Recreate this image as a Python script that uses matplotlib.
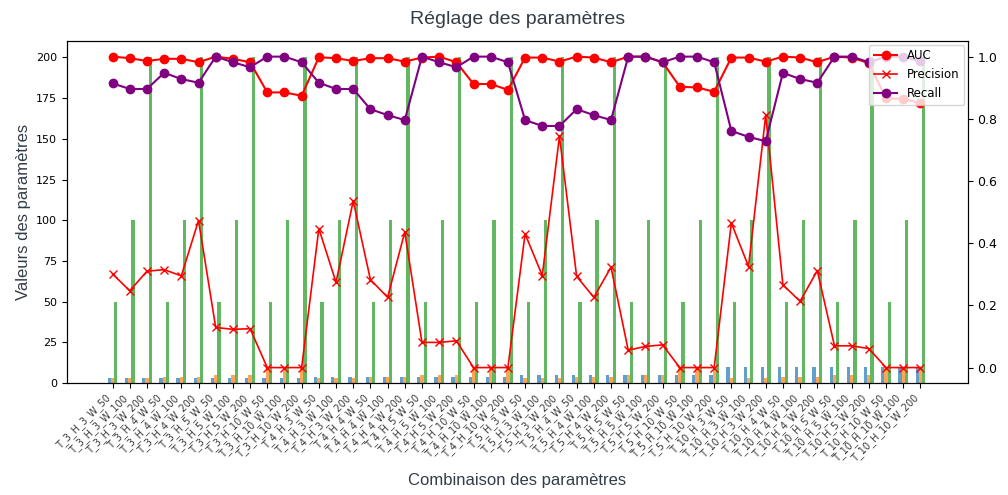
import numpy as np
import matplotlib.pyplot as plt

# Grille des paramètres testés
T_vals = [3] * 12 + [4] * 12 + [5] * 12 + [10] * 12
H_vals = ([3] * 3 + [4] * 3 + [5] * 3 + [10] * 3) * 4
W_vals = [50, 100, 200] * 16
combos = [f"T_{t}_H_{h}_W_{w}" for t, h, w in zip(T_vals, H_vals, W_vals)]

# Scores obtenus pour chaque combinaison
auc = [1.000, 0.995, 0.986, 0.993, 0.993, 0.982, 1.000, 0.993, 0.982, 0.885, 0.885, 0.874,
       0.998, 0.995, 0.986, 0.995, 0.995, 0.984, 0.997, 1.000, 0.982, 0.912, 0.912, 0.893,
       0.997, 0.997, 0.984, 1.000, 0.997, 0.982, 1.000, 1.000, 0.982, 0.903, 0.901, 0.887,
       0.997, 0.997, 0.984, 1.000, 0.997, 0.982, 1.000, 0.997, 0.979, 0.866, 0.864, 0.851]
precision = [0.301, 0.247, 0.310, 0.315, 0.295, 0.473, 0.129, 0.123, 0.125, 0.0, 0.0, 0.0,
             0.447, 0.274, 0.536, 0.283, 0.226, 0.436, 0.081, 0.081, 0.086, 0.0, 0.0, 0.0,
             0.430, 0.296, 0.744, 0.293, 0.226, 0.323, 0.056, 0.068, 0.073, 0.0, 0.0, 0.0,
             0.465, 0.325, 0.812, 0.266, 0.213, 0.312, 0.070, 0.070, 0.061, 0.0, 0.0, 0.0]
recall = [0.914, 0.896, 0.896, 0.948, 0.928, 0.916, 1.000, 0.982, 0.966, 1.000, 1.000, 0.982,
          0.916, 0.896, 0.896, 0.831, 0.812, 0.796, 1.000, 0.982, 0.966, 1.000, 1.000, 0.982,
          0.796, 0.777, 0.777, 0.831, 0.812, 0.796, 1.000, 1.000, 0.982, 1.000, 1.000, 0.982,
          0.761, 0.742, 0.728, 0.948, 0.928, 0.916, 1.000, 1.000, 0.982, 1.000, 1.000, 0.985]

x = np.arange(len(combos))
bw = 0.19
txt_col = '#333d47'

fig = plt.figure(figsize=(10.08, 4.95), dpi=100)
ax = fig.add_axes([0.0665, 0.226, 0.8935, 0.691])

# Barres : valeurs des paramètres
ax.bar(x - bw, T_vals, width=bw, color='tab:blue', alpha=0.7)
ax.bar(x, H_vals, width=bw, color='tab:orange', alpha=0.7)
ax.bar(x + bw, W_vals, width=bw, color='tab:green', alpha=0.75)
ax.set_xticks(x)
ax.set_xticklabels(combos, rotation=45, ha='right', fontsize=7, color='#3a3a3a')
ax.tick_params(axis='y', labelsize=8)
ax.set_xlim(-2.65, 49.75)
ax.set_xlabel("Combinaison des paramètres", fontsize=12, color=txt_col,
              family='Liberation Sans', labelpad=6)
ax.set_ylabel("Valeurs des paramètres", fontsize=12, color=txt_col,
              family='Liberation Sans')
ax.set_title("Réglage des paramètres", fontsize=14, color=txt_col,
             family='Liberation Sans', pad=12)

# Courbes : métriques sur l'axe de droite
ax2 = ax.twinx()
ax2.plot(x, auc, color='red', marker='o', markersize=6, linewidth=1.5, label='AUC')
ax2.plot(x, precision, color='red', marker='x', markersize=5.5, linewidth=1.2, label='Precision')
ax2.plot(x, recall, color='purple', marker='o', markersize=6, linewidth=1.5, label='Recall')
ax2.tick_params(axis='y', labelsize=9)
ax2.legend(loc='upper right', fontsize=8.5, borderaxespad=0.3)

plt.savefig("out.png", dpi=100)
plt.close()
